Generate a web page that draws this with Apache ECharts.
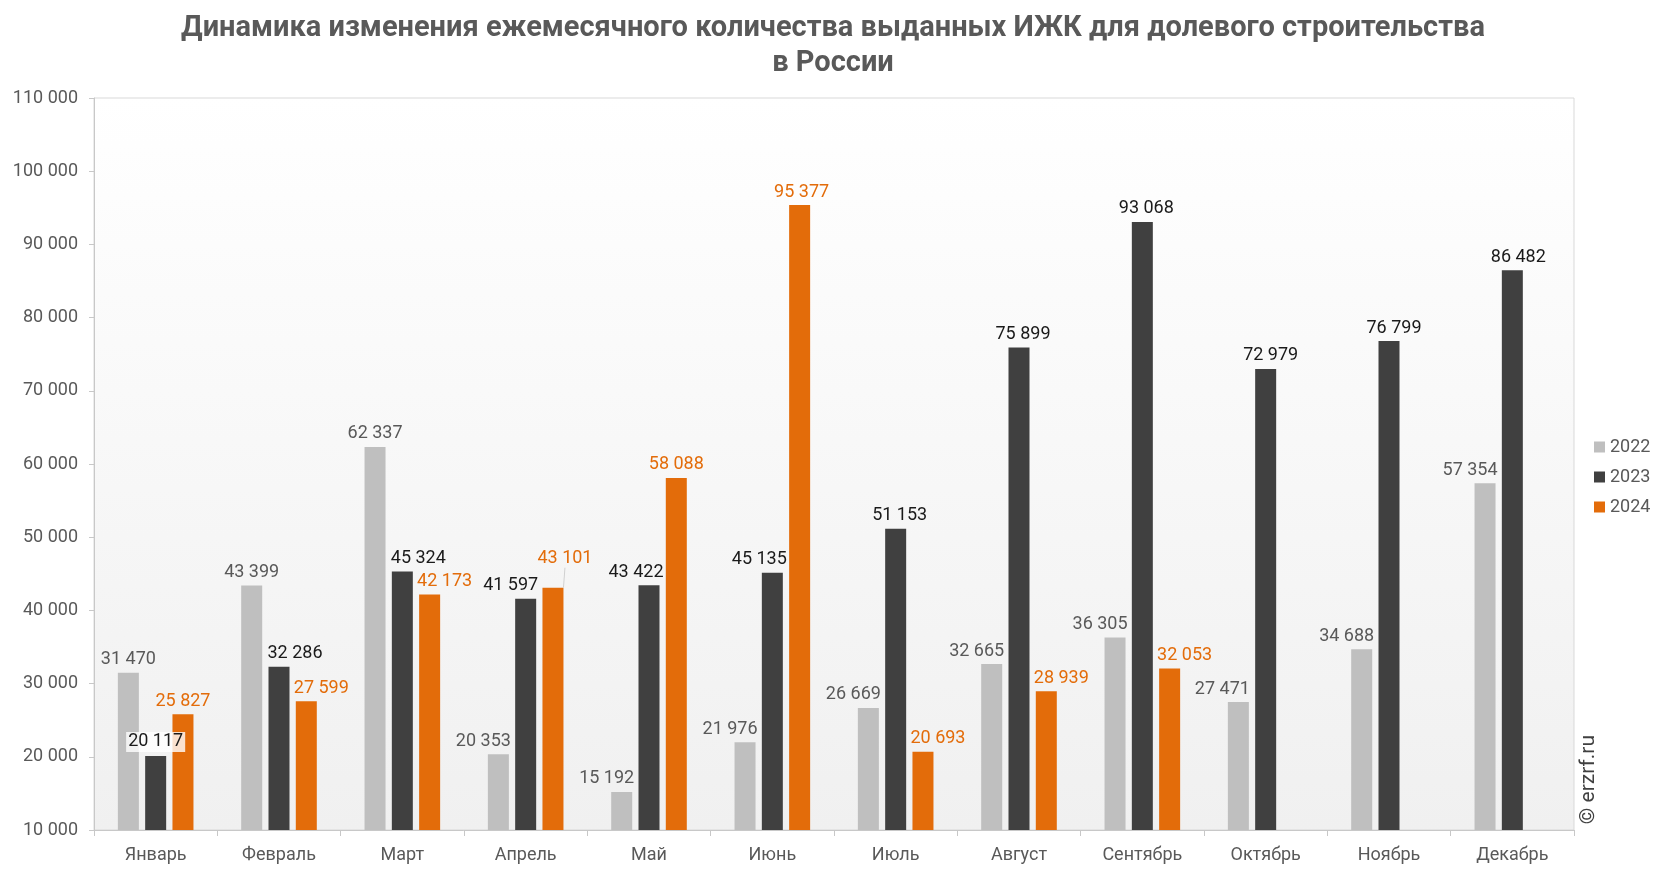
<!DOCTYPE html>
<html><head><meta charset="utf-8">
<script src="https://cdn.jsdelivr.net/npm/echarts@6/dist/echarts.min.js"></script>
<style>html,body{margin:0;padding:0;background:#fff}#c{width:1666px;height:872px}</style>
</head><body><div id="c"></div>
<script>
const categories = ['Январь','Февраль','Март','Апрель','Май','Июнь','Июль','Август','Сентябрь','Октябрь','Ноябрь','Декабрь'];
const seriesNames = ['2022','2023','2024'];
const values2022 = [31470,43399,62337,20353,15192,21976,26669,32665,36305,27471,34688,57354];
const values2023 = [20117,32286,45324,41597,43422,45135,51153,75899,93068,72979,76799,86482];
const values2024 = [25827,27599,42173,43101,58088,95377,20693,28939,32053,null,null,null];
const yMin = 10000, yMax = 110000, yStep = 10000;

// label layout shifts (px) per series, per month
const labelShift = [
  [[0,0],[0,0],[0,0],[-15,0],[-15,0],[-15,0],[-15,0],[-15,0],[-15,0],[-16,0],[-15,0],[-15,0]],
  [[0,0],[16,0],[16,0],[-15,0],[-13,0],[-13,0],[4,0],[4,0],[4,0],[5,0],[5,0],[6,0]],
  [[0,0],[15,0],[15,0],[12,-16],[0,0],[2,0],[15,0],[15,0],[15,0],[0,0],[0,0],[0,0]]
];
const colors = ['#bfbfbf','#404040','#e36c0a'];
const labelColors = ['#595959','#1a1a1a','#e36c0a'];

const fmt = v => String(v).replace(/\B(?=(\d{3})+(?!\d))/g, ' ');
const chart = echarts.init(document.getElementById('c'));
const all = [values2022, values2023, values2024];

// visible bars (no labels) on axis 0
const barSeries = all.map((vals, si) => ({
  name: seriesNames[si],
  type: 'bar', xAxisIndex: 0, z: 2,
  barWidth: 21, barGap: '30%',
  itemStyle: {color: colors[si]},
  data: vals
}));
// transparent overlay bars carrying labels on axis 1, drawn above all bars
const labelSeries = all.map((vals, si) => ({
  name: seriesNames[si],
  type: 'bar', xAxisIndex: 1, z: 5, zlevel: 1,
  barWidth: 21, barGap: '30%',
  itemStyle: {color: 'rgba(0,0,0,0)'},
  emphasis: {disabled: true},
  label: {show: true, position: 'top', distance: 4, color: labelColors[si], fontSize: 18, fontFamily: 'Roboto',
          formatter: p => fmt(p.value)},
  labelLayout: p => ({dx: labelShift[si][p.dataIndex][0], dy: labelShift[si][p.dataIndex][1]}),
  data: vals.map((v, i) => {
    const d = {value: v};
    if (si === 1 && i === 0) d.label = {backgroundColor: 'rgba(255,255,255,0.8)', padding: [1,2]};
    if (si === 2 && i === 3) d.labelLine = {show: true, lineStyle: {color: '#d0d0d0', width: 1}};
    return d;
  })
}));

chart.setOption({
  animation: false,
  textStyle: {fontFamily: 'Roboto'},
  title: {
    text: 'Динамика изменения ежемесячного количества выданных ИЖК для долевого строительства\nв России',
    left: 'center', top: 6,
    textStyle: {fontFamily: 'Roboto', fontWeight: 'bold', fontSize: 29, color: '#595959', lineHeight: 35}
  },
  legend: {
    orient: 'vertical', left: 1589, top: 433,
    itemWidth: 11, itemHeight: 11, itemGap: 12,
    icon: 'rect',
    textStyle: {fontSize: 18, color: '#595959', fontFamily: 'Roboto'},
    data: seriesNames
  },
  grid: {
    left: 94, right: 92, top: 98, bottom: 42, show: true,
    borderColor: '#d9d9d9', borderWidth: 1,
    backgroundColor: new echarts.graphic.LinearGradient(0,0,0,1,[{offset:0,color:'#ffffff'},{offset:1,color:'#f0f0f0'}])
  },
  xAxis: [{
    type: 'category', data: categories,
    axisLine: {lineStyle: {color: '#c8c8c8'}},
    axisTick: {show: true, length: 6, lineStyle: {color: '#c8c8c8'}},
    axisLabel: {fontSize: 18, color: '#595959', margin: 16}
  }, {
    type: 'category', data: categories, position: 'bottom', show: false
  }],
  yAxis: {
    type: 'value', min: yMin, max: yMax, interval: yStep,
    axisLine: {show: true, lineStyle: {color: '#c8c8c8'}},
    axisTick: {show: true, length: 5, lineStyle: {color: '#c8c8c8'}},
    splitLine: {show: false},
    axisLabel: {fontSize: 18, color: '#595959', margin: 16, formatter: v => fmt(v)}
  },
  graphic: [{
    type: 'text', left: 1578, top: 735, rotation: Math.PI / 2,
    style: {text: '© erzrf.ru', fontSize: 21, fill: '#404040', fontFamily: 'Roboto'}
  }],
  series: barSeries.concat(labelSeries)
});
</script></body></html>
